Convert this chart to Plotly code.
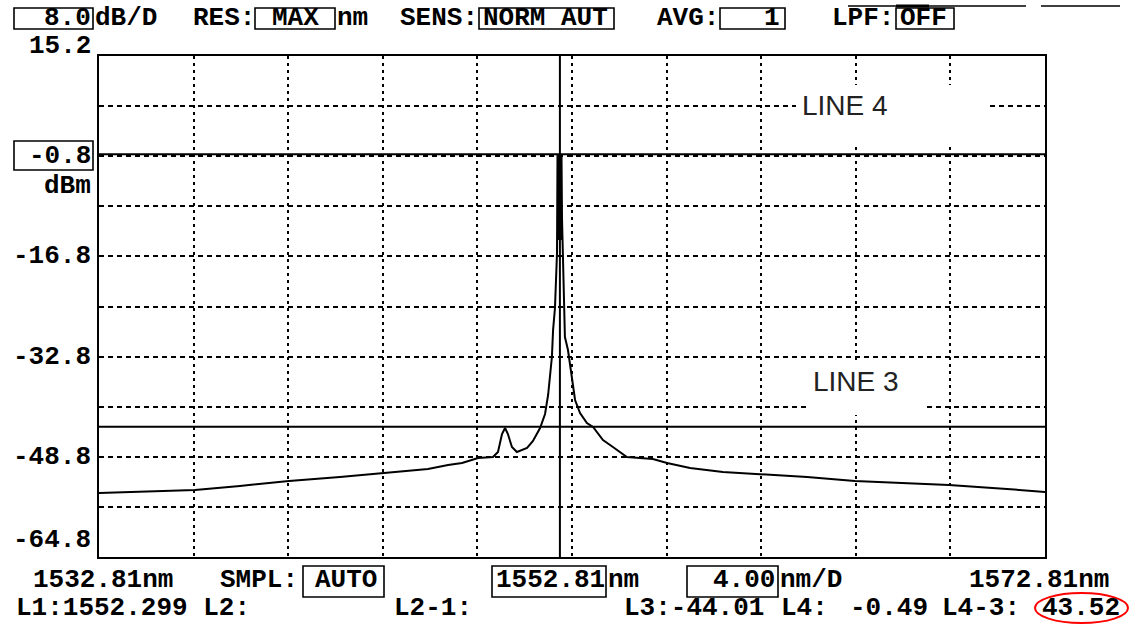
import plotly.graph_objects as go

# ---------------- data ----------------
wavelength_nm = [
    1532.81, 1534.12, 1535.39, 1536.87, 1538.77, 1540.84, 1543.00, 1544.86,
    1546.72, 1547.57, 1548.16, 1548.84, 1549.47,
    1549.68, 1549.85, 1549.98, 1550.10, 1550.27, 1550.48, 1550.91, 1551.16,
    1551.46, 1551.67, 1551.80, 1551.96, 1552.01, 1552.09, 1552.176,
    1552.197, 1552.218, 1552.239, 1552.260, 1552.281, 1552.303, 1552.324,
    1552.345, 1552.366, 1552.387, 1552.43, 1552.47,
    1552.51, 1552.64, 1552.81, 1552.94, 1553.15, 1553.44, 1553.70, 1554.12,
    1554.54, 1555.13, 1555.68, 1556.23, 1556.83, 1557.80, 1559.19, 1560.80,
    1562.75, 1564.77, 1566.97, 1568.75, 1571.20, 1572.81,
]
power_dbm = [
    -54.58, -54.42, -54.26, -54.10, -53.46, -52.66, -52.02, -51.39,
    -50.75, -50.11, -49.79, -48.99, -48.83,
    -48.03, -45.16, -44.20, -45.16, -47.23, -48.03, -47.39, -46.28,
    -44.20, -41.97, -38.93, -32.86, -28.55, -25.04, -16.26,
    -0.61, -14.18, -0.49, -14.18, -0.49, -14.18, -0.49,
    -14.18, -0.61, -10.67, -16.26, -22.17,
    -29.67, -31.75, -36.06, -39.73, -41.81, -43.40, -44.04, -46.12,
    -47.23, -48.83, -48.99, -49.15, -49.79, -50.59, -51.23, -51.55,
    -52.02, -52.66, -52.98, -53.30, -53.94, -54.42,
]

x_start_nm = 1532.81
x_stop_nm = 1572.81
nm_per_div = 4.0
y_top_dbm = 15.2
y_bottom_dbm = -64.8
db_per_div = 8.0
y_tick_values = [15.2, -0.8, -16.8, -32.8, -48.8, -64.8]
y_tick_labels = ["15.2", "-0.8", "-16.8", "-32.8", "-48.8", "-64.8"]

L1_nm = 1552.299
L3_dbm = -44.01
L4_dbm = -0.49
L4_minus_L3 = 43.52

# ---------------- layout helpers (pixel -> paper) ----------------
FIG_W, FIG_H = 1130, 626
PL, PR, PT, PB = 99, 1045, 56, 557
PW, PH = PR - PL, PB - PT


def X(px):
    return (px - PL) / PW


def Y(py):
    return (PB - py) / PH


MONO = "Liberation Mono"
FS = 26

fig = go.Figure()
fig.add_trace(go.Scatter(
    x=wavelength_nm, y=power_dbm, mode="lines",
    line=dict(color="black", width=2), hoverinfo="skip", showlegend=False,
))

# marker lines
fig.add_hline(y=L3_dbm, line=dict(color="black", width=2))
fig.add_hline(y=L4_dbm, line=dict(color="black", width=2))
fig.add_vline(x=L1_nm, line=dict(color="black", width=2))

shapes = []
annos = []


def box(x0, x1, y0, y1, width=1.6):
    shapes.append(dict(type="rect", xref="paper", yref="paper",
                       x0=X(x0), x1=X(x1), y0=Y(y1), y1=Y(y0),
                       line=dict(color="black", width=width), layer="above"))


def txt(s, x, y, anchor="left", size=FS, family=MONO, bold=True, color="black"):
    annos.append(dict(text=s, xref="paper", yref="paper", x=X(x), y=Y(y),
                      xanchor=anchor, yanchor="middle", showarrow=False,
                      font=dict(family=family, size=size, color=color,
                                weight=700 if bold else 400)))


# header
HY = 18
HB0, HB1 = 8, 29
box(14, 93, HB0, HB1)
txt("8.0", 93, HY, "right")
txt("dB/D", 93, HY)
txt("RES:", 191, HY)
box(255, 335, HB0, HB1)
txt("MAX", 295, HY, "center")
txt("nm", 335, HY)
txt("SENS:", 398, HY)
box(479, 614, HB0, HB1)
txt("NORM AUT", 481, HY)
txt("AVG:", 655, HY)
box(720, 785, HB0, HB1)
txt("1", 782, HY, "right")
txt("LPF:", 830, HY)
box(896, 954, HB0, HB1)
txt("OFF", 898, HY)

# stray lines at top right
for (a, b, w) in [(848, 1026, 1.5), (1041, 1120, 1.5), (896, 929, 3)]:
    shapes.append(dict(type="line", xref="paper", yref="paper",
                       x0=X(a), x1=X(b), y0=Y(6), y1=Y(6),
                       line=dict(color="black", width=w)))

# y labels
for v, lab in zip(y_tick_values, y_tick_labels):
    shift = 0
    if v == y_top_dbm:
        shift = 10
    elif v == y_bottom_dbm:
        shift = 17
    annos.append(dict(text=lab, xref="paper", yref="y", x=X(93), y=v,
                      xanchor="right", yanchor="middle", yshift=shift,
                      showarrow=False,
                      font=dict(family=MONO, size=FS, color="black", weight=700)))
box(14, 93, 141, 170)
txt("dBm", 93, 186, "right")

# footer row 1
R1 = 580
FB0, FB1 = 566, 597
txt(f"{x_start_nm:.2f}nm", 31, R1)
txt("SMPL:", 218, R1)
box(303, 384, FB0, FB1)
txt("AUTO", 313, R1)
box(492, 606, FB0, FB1)
txt(f"{(x_start_nm + x_stop_nm) / 2:.2f}", 494, R1)
txt("nm", 606, R1)
box(687, 778, FB0, FB1)
txt(f"{nm_per_div:.2f}", 777, R1, "right")
txt("nm/D", 778, R1)
txt(f"{x_stop_nm:.2f}nm", 967, R1)

# footer row 2
R2 = 608
txt(f"L1:{L1_nm:.3f} L2:", 14, R2)
txt("L2-1:", 392, R2)
txt(f"L3:{L3_dbm:.2f}", 622, R2)
txt("L4:", 779, R2)
txt(f"{L4_dbm:.2f}", 848, R2)
txt("L4-3:", 940, R2)
txt(f"{L4_minus_L3:.2f}", 1040, R2)
shapes.append(dict(type="circle", xref="paper", yref="paper",
                   x0=X(1035), x1=X(1128), y0=Y(623), y1=Y(593),
                   line=dict(color="red", width=2)))

# LINE labels with white background boxes
shapes.append(dict(type="rect", xref="paper", yref="paper",
                   x0=X(796), x1=X(990), y0=Y(145), y1=Y(85),
                   fillcolor="white", line=dict(width=0), layer="above"))
shapes.append(dict(type="rect", xref="paper", yref="paper",
                   x0=X(809), x1=X(927), y0=Y(415), y1=Y(360),
                   fillcolor="white", line=dict(width=0), layer="above"))
txt("LINE 4", 800, 106, family="Liberation Sans", size=28, bold=False, color="#222")
txt("LINE 3", 811, 381, family="Liberation Sans", size=28, bold=False, color="#222")

fig.update_layout(
    width=FIG_W, height=FIG_H,
    margin=dict(l=PL, r=FIG_W - PR, t=PT, b=FIG_H - PB, pad=0),
    paper_bgcolor="white", plot_bgcolor="white",
    shapes=list(fig.layout.shapes) + shapes,
    annotations=annos,
    showlegend=False,
    hovermode=False,
)
fig.update_xaxes(
    range=[x_start_nm, x_stop_nm], tick0=x_start_nm, dtick=nm_per_div,
    showgrid=True, gridcolor="black", gridwidth=1.5, griddash="3px,4px",
    showticklabels=False, ticks="", zeroline=False,
    showline=True, linecolor="black", linewidth=2, mirror=True,
)
fig.update_yaxes(
    range=[y_bottom_dbm, y_top_dbm], tick0=y_bottom_dbm, dtick=db_per_div,
    showgrid=True, gridcolor="black", gridwidth=1.5, griddash="5px,4px",
    showticklabels=False, ticks="", zeroline=False,
    showline=True, linecolor="black", linewidth=2, mirror=True,
)

fig.write_html(
    "out.html",
    config={"displayModeBar": False},
    post_script="document.body.style.margin='0px';document.body.style.overflow='hidden';",
)
